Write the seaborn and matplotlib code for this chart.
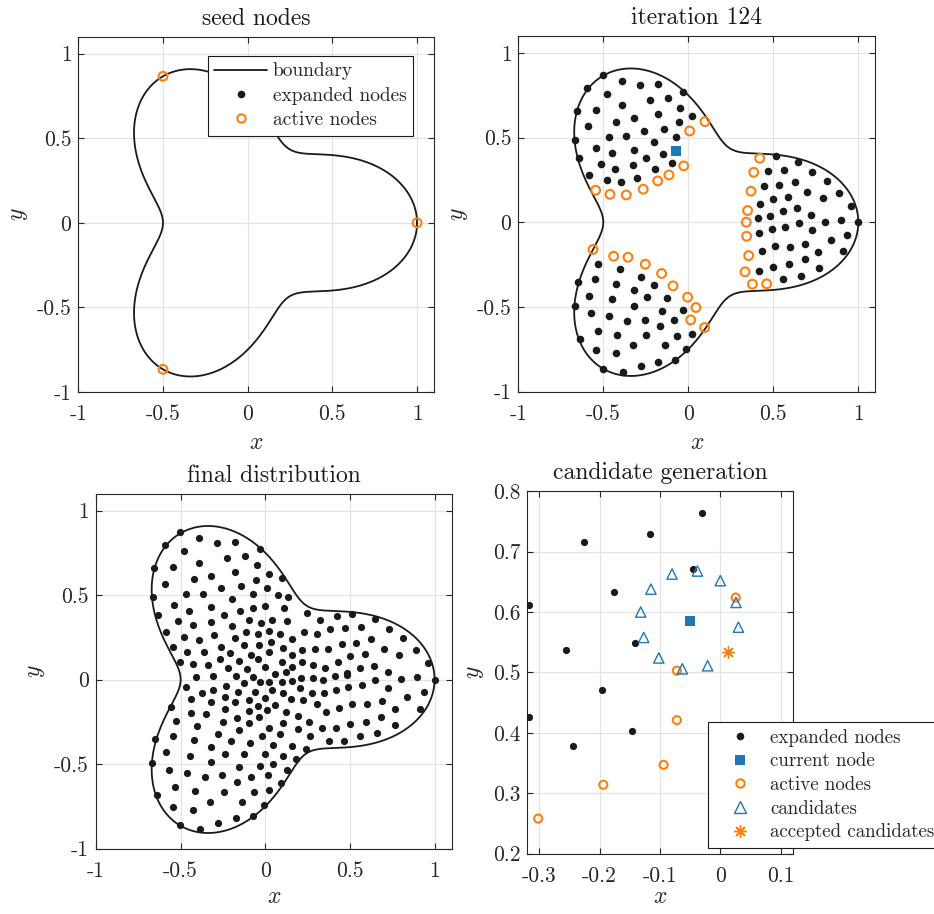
import numpy as np
import pandas as pd
import matplotlib
matplotlib.use("Agg")
import matplotlib.pyplot as plt
import seaborn as sns
from matplotlib.lines import Line2D

# ---------------- data ----------------
# boundary shape: r(phi) = base + amp * cos(lobes * phi)
boundary_base = 0.75
boundary_amp = 0.25
boundary_lobes = 3

seed_x = [1.0, -0.5, -0.5]
seed_y = [0.0, 0.866, -0.866]

iter_expanded_x = [
    -0.504, -0.392, -0.284, -0.180, -0.594, -0.480, -0.033, -0.227, -0.120, -0.390,
    -0.047, -0.657, -0.545, -0.178, -0.320, -0.424, -0.055, 0.024, -0.592, -0.259,
    -0.145, -0.469, -0.369, -0.075, -0.667, -0.200, -0.541, -0.320, -0.449, -0.151,
    -0.641, -0.249, -0.516, -0.324, -0.096, -0.429, -0.198, -0.584, -0.304, -0.480,
    -0.396,
    -0.529, -0.400, -0.547, -0.280, -0.647, -0.424, -0.202, -0.322, -0.584, -0.241,
    -0.125, -0.447, -0.318, -0.031, -0.667, -0.575, -0.155, -0.469, -0.359, -0.257,
    -0.084, -0.167, -0.533, 0.020, -0.418, -0.247, -0.067, -0.639, -0.327, -0.139,
    -0.545, -0.012, -0.427, -0.080, -0.176, -0.278, -0.504, -0.386,
    0.514, 0.645, 0.471, 0.565, 0.728, 0.816, 0.626, 0.447, 0.535, 0.698,
    0.888, 0.500, 0.586, 0.790, 0.424, 0.959, 0.557, 0.641, 0.483, 0.724,
    0.408, 0.649, 0.802, 0.898, 1.000, 0.490, 0.571, 0.416, 0.728, 0.936,
    0.839, 0.686, 0.600, 0.510, 0.765, 0.912, 0.432, 0.685, 0.590, 0.500,
    0.771, 0.414, 0.557, 0.661,
]
iter_expanded_y = [
    0.872, 0.834, 0.809, 0.815, 0.795, 0.756, 0.767, 0.720, 0.736, 0.693,
    0.677, 0.655, 0.665, 0.638, 0.614, 0.592, 0.590, 0.628, 0.567, 0.541,
    0.553, 0.504, 0.508, 0.506, 0.488, 0.476, 0.439, 0.429, 0.409, 0.405,
    0.382, 0.382, 0.342, 0.340, 0.350, 0.315, 0.315, 0.279, 0.262, 0.250,
    0.236,
    -0.248, -0.276, -0.338, -0.325, -0.356, -0.364, -0.368, -0.400, -0.433, -0.443,
    -0.445, -0.453, -0.492, -0.516, -0.494, -0.539, -0.523, -0.553, -0.581, -0.575,
    -0.579, -0.612, -0.642, -0.661, -0.665, -0.669, -0.671, -0.687, -0.728, -0.726,
    -0.756, -0.746, -0.773, -0.811, -0.823, -0.852, -0.866, -0.884,
    0.390, 0.358, 0.305, 0.309, 0.297, 0.246, 0.238, 0.211, 0.220, 0.181,
    0.173, 0.138, 0.150, 0.144, 0.106, 0.096, 0.069, 0.083, 0.035, 0.043,
    0.024, -0.006, 0.004, 0.016, 0.000, -0.043, -0.031, -0.063, -0.047, -0.075,
    -0.106, -0.128, -0.146, -0.142, -0.173, -0.171, -0.171, -0.220, -0.248, -0.262,
    -0.272, -0.287, -0.333, -0.319,
]
iter_active_x = [
    0.098, 0.008, -0.027, -0.114, -0.180, -0.265, -0.365, -0.461, -0.545,
    -0.561, -0.439, -0.355, -0.253, -0.157, -0.090, -0.004, 0.045, 0.014, 0.096,
    0.420, 0.385, 0.369, 0.349, 0.341, 0.343, 0.355, 0.334, 0.377, 0.461,
]
iter_active_y = [
    0.594, 0.539, 0.333, 0.279, 0.244, 0.195, 0.161, 0.165, 0.189,
    -0.161, -0.201, -0.207, -0.248, -0.303, -0.376, -0.443, -0.504, -0.577, -0.622,
    0.378, 0.295, 0.183, 0.069, 0.000, -0.083, -0.197, -0.293, -0.366, -0.364,
]
iter_current_x = [-0.071]
iter_current_y = [0.423]

final_x = [
    -0.504, -0.392, -0.283, -0.179, -0.592, -0.482, -0.033, -0.228, -0.120, -0.390,
    -0.047, -0.655, -0.545, -0.321, -0.179, 0.024, -0.423, -0.053, 0.101, -0.592,
    -0.260, -0.144, 0.010, -0.466, -0.368, -0.075, 0.073, 0.136, -0.665, -0.199,
    -0.541, -0.319, 0.000, -0.073, 0.108, -0.449, -0.149, -0.636, -0.246, -0.096,
    -0.027, 0.040, 0.128, -0.516, -0.323, -0.427, -0.197, -0.585, -0.114, -0.041,
    0.024, 0.085, -0.303, -0.482, -0.394, -0.181, 0.035, -0.545, -0.264, -0.124,
    -0.039, 0.102, -0.460, -0.360, -0.207, 0.022, -0.084, -0.506, -0.268, -0.153,
    -0.043, 0.101, -0.429, -0.340, -0.002, -0.220, -0.108, 0.059, 0.120,
    0.246, 0.321, 0.421, 0.514, 0.646, 0.227, 0.305, 0.384, 0.473, 0.565,
    0.729, 0.158, 0.451, 0.536, 0.626, 0.815, 0.219, 0.292, 0.370, 0.701,
    0.890, 0.158, 0.502, 0.589, 0.790, 0.215, 0.282, 0.427, 0.963, 0.156,
    0.351, 0.485, 0.559, 0.644, 0.725,
    0.156, 0.211, 0.280, 0.343, 0.412, 0.483, 0.648, 0.804, 0.898, 1.000,
    0.203, 0.274, 0.345, 0.416, 0.490, 0.569, 0.727, 0.154, 0.223, 0.307,
    0.510, 0.599, 0.687, 0.839, 0.935, 0.120, 0.191, 0.357, 0.433, 0.768,
    0.914, 0.258, 0.500, 0.593, 0.685, 0.195, 0.333, 0.418, 0.768, 0.262,
    0.557, 0.660, 0.376, 0.463, 0.156, 0.239, 0.183, 0.126,
    -0.409, -0.307, -0.173, -0.071, 0.022, 0.097, -0.470, -0.232, -0.126, -0.031,
    -0.374, -0.307, -0.161, -0.059, 0.039, 0.106, -0.441, -0.240, -0.323, -0.179,
    -0.096, -0.002, -0.041, 0.057, -0.559, -0.439, -0.352, -0.240, -0.094, 0.012,
    -0.527, -0.250, -0.165, -0.037, -0.098, 0.103, -0.401, -0.155, 0.024, -0.279,
    -0.021, 0.087, -0.649, -0.547, -0.423, -0.201, -0.088, 0.045, -0.323, -0.584,
    -0.445, -0.240, -0.126, -0.002, 0.106, -0.669, -0.319, 0.045, -0.031, -0.155,
    -0.571, -0.465, -0.356, -0.256, -0.084, 0.016, -0.169, 0.095, -0.535, 0.022,
    -0.067, -0.415, -0.244, -0.638, -0.140, -0.327, -0.010, -0.543, -0.427, -0.075,
    -0.175, -0.279, -0.504, -0.386,
]
final_y = [
    0.875, 0.835, 0.809, 0.815, 0.796, 0.758, 0.770, 0.721, 0.733, 0.691,
    0.678, 0.658, 0.664, 0.614, 0.638, 0.626, 0.595, 0.591, 0.599, 0.565,
    0.543, 0.553, 0.543, 0.504, 0.508, 0.506, 0.498, 0.490, 0.486, 0.476,
    0.441, 0.431, 0.437, 0.425, 0.423, 0.407, 0.407, 0.382, 0.382, 0.350,
    0.332, 0.354, 0.346, 0.344, 0.342, 0.321, 0.317, 0.281, 0.281, 0.269,
    0.289, 0.269, 0.261, 0.250, 0.236, 0.244, 0.224, 0.190, 0.194, 0.204,
    0.204, 0.188, 0.165, 0.163, 0.159, 0.165, 0.145, 0.104, 0.121, 0.111,
    0.121, 0.106, 0.092, 0.086, 0.076, 0.070, 0.062, 0.035, 0.046,
    0.392, 0.354, 0.378, 0.390, 0.358, 0.279, 0.271, 0.299, 0.305, 0.311,
    0.297, 0.240, 0.210, 0.218, 0.238, 0.244, 0.175, 0.179, 0.182, 0.180,
    0.173, 0.145, 0.139, 0.149, 0.147, 0.106, 0.088, 0.106, 0.098, 0.076,
    0.068, 0.040, 0.068, 0.082, 0.044,
    -0.009, 0.007, 0.011, -0.001, 0.021, 0.027, -0.005, 0.003, 0.015, 0.000,
    -0.052, -0.078, -0.080, -0.062, -0.042, -0.031, -0.048, -0.113, -0.121, -0.143,
    -0.143, -0.143, -0.125, -0.106, -0.074, -0.190, -0.216, -0.194, -0.171, -0.174,
    -0.174, -0.253, -0.263, -0.249, -0.224, -0.293, -0.289, -0.287, -0.271, -0.334,
    -0.334, -0.316, -0.364, -0.362, -0.393, -0.411, -0.470, -0.533,
    0.017, 0.021, 0.023, 0.017, -0.013, -0.017, -0.046, -0.036, -0.023, -0.017,
    -0.082, -0.062, -0.072, -0.072, -0.064, -0.082, -0.115, -0.106, -0.131, -0.135,
    -0.123, -0.107, -0.155, -0.151, -0.163, -0.198, -0.204, -0.173, -0.186, -0.182,
    -0.244, -0.249, -0.228, -0.224, -0.257, -0.259, -0.273, -0.299, -0.285, -0.322,
    -0.334, -0.324, -0.350, -0.336, -0.360, -0.366, -0.374, -0.386, -0.397, -0.431,
    -0.451, -0.439, -0.443, -0.443, -0.455, -0.492, -0.490, -0.502, -0.512, -0.520,
    -0.537, -0.551, -0.575, -0.567, -0.577, -0.565, -0.608, -0.614, -0.636, -0.656,
    -0.668, -0.662, -0.666, -0.681, -0.727, -0.727, -0.743, -0.752, -0.772, -0.808,
    -0.821, -0.847, -0.863, -0.884,
]

cand_expanded_x = [-0.030, -0.116, -0.226, -0.045, -0.176, -0.318, -0.142, -0.256, -0.196, -0.317, -0.147, -0.244]
cand_expanded_y = [0.764, 0.730, 0.716, 0.672, 0.633, 0.611, 0.549, 0.537, 0.471, 0.426, 0.403, 0.378]
cand_current_x = [-0.051]
cand_current_y = [0.586]
cand_active_x = [0.0255, -0.072, -0.072, -0.094, -0.194, -0.302]
cand_active_y = [0.624, 0.503, 0.421, 0.347, 0.314, 0.258]
cand_tri_x = [-0.080, -0.038, 0.000, -0.115, 0.026, -0.132, 0.030, -0.127, -0.102, -0.063, -0.021]
cand_tri_y = [0.663, 0.668, 0.652, 0.638, 0.616, 0.600, 0.575, 0.558, 0.524, 0.506, 0.511]
cand_accepted_x = [0.0134]
cand_accepted_y = [0.534]

titles = ["seed nodes", "iteration 124", "final distribution", "candidate generation"]
main_ticks = [-1, -0.5, 0, 0.5, 1]
main_ticklabels = ["-1", "-0.5", "0", "0.5", "1"]
cand_xticks = [-0.3, -0.2, -0.1, 0, 0.1]
cand_xticklabels = ["-0.3", "-0.2", "-0.1", "0", "0.1"]
cand_yticks = [0.2, 0.3, 0.4, 0.5, 0.6, 0.7, 0.8]
cand_yticklabels = ["0.2", "0.3", "0.4", "0.5", "0.6", "0.7", "0.8"]

# ---------------- style ----------------
sns.set_theme(style="ticks")
plt.rcParams.update({
    "font.family": ["cmr10", "DejaVu Serif"],
    "mathtext.fontset": "cm",
    "axes.formatter.use_mathtext": True,
    "axes.unicode_minus": False,
})

ORANGE = "#ff7f0e"
BLUE = "#1f77b4"
AX_COL = "#262626"
GRID_COL = "#e3e3e3"
TICK_FS = 15.5
TITLE_FS = 17
LABEL_FS = 17
LEG_FS = 13.6

fig = plt.figure(figsize=(9.34, 9.14), dpi=100)
W, H = 934, 914


def add_ax(l, t, r, b):
    return fig.add_axes([l / W, 1 - b / H, (r - l) / W, (b - t) / H])


ax1 = add_ax(78.3, 36.7, 434.0, 392.0)
ax2 = add_ax(518.3, 36.0, 875.3, 391.5)
ax3 = add_ax(96.0, 493.6, 451.5, 848.5)
ax4 = add_ax(527.3, 491.3, 792.7, 853.6)

phi = np.linspace(0, 2 * np.pi, 721)
rad = boundary_base + boundary_amp * np.cos(boundary_lobes * phi)
bnd = pd.DataFrame({"x": rad * np.cos(phi), "y": rad * np.sin(phi)})


def style_ax(ax, title, xt, xtl, yt, ytl, xlim, ylim, xlabelpad=6):
    ax.set_xlim(*xlim)
    ax.set_ylim(*ylim)
    ax.set_xticks(xt)
    ax.set_xticklabels(xtl)
    ax.set_yticks(yt)
    ax.set_yticklabels(ytl)
    ax.grid(True, color=GRID_COL, lw=0.9)
    ax.set_axisbelow(True)
    ax.tick_params(direction="in", top=True, right=True, length=4.5, width=0.8,
                   colors=AX_COL, labelsize=TICK_FS)
    ax.tick_params(axis="x", pad=9)
    ax.tick_params(axis="y", pad=5)
    for s in ax.spines.values():
        s.set_visible(True)
        s.set_color(AX_COL)
        s.set_linewidth(0.8)
    ax.set_title(title, fontsize=TITLE_FS, pad=8.5, color="k")
    ax.set_xlabel("$x$", fontsize=LABEL_FS, labelpad=xlabelpad, color=AX_COL)
    ax.set_ylabel("$y$", fontsize=LABEL_FS, labelpad=5, color=AX_COL)


def draw_boundary(ax):
    sns.lineplot(data=bnd, x="x", y="y", sort=False, estimator=None, color="k",
                 lw=1.3, ax=ax, zorder=2)


def dots(ax, x, y, s=30):
    sns.scatterplot(x=x, y=y, color="k", s=s, linewidth=0, ax=ax, zorder=3)


def rings(ax, x, y, s=40):
    sns.scatterplot(x=x, y=y, marker="o", facecolor="none", edgecolor=ORANGE,
                    linewidth=1.5, s=s, ax=ax, zorder=4)


# seed nodes
draw_boundary(ax1)
rings(ax1, seed_x, seed_y)
style_ax(ax1, titles[0], main_ticks, main_ticklabels, main_ticks, main_ticklabels,
         (-1, 1.1), (-1, 1.1))
h_bnd = Line2D([], [], color="k", lw=1.3)
h_exp = Line2D([], [], color="k", marker="o", ls="none", markersize=5.5, markeredgewidth=0)
h_act = Line2D([], [], color=ORANGE, marker="o", ls="none", markersize=6,
               markerfacecolor="none", markeredgewidth=1.5)
leg1 = ax1.legend([h_bnd, h_exp, h_act], ["boundary", "expanded nodes", "active nodes"],
                  loc="upper right", bbox_to_anchor=(0.942, 0.9465), borderaxespad=0,
                  fontsize=14, fancybox=False, framealpha=1, edgecolor="k",
                  handlelength=2.7, handletextpad=0.3, borderpad=0.35, labelspacing=0.33)
leg1.get_frame().set_linewidth(0.8)

# iteration 124
draw_boundary(ax2)
dots(ax2, iter_expanded_x, iter_expanded_y)
rings(ax2, iter_active_x, iter_active_y)
sns.scatterplot(x=iter_current_x, y=iter_current_y, marker="s", color=BLUE, s=55,
                linewidth=0, ax=ax2, zorder=5)
style_ax(ax2, titles[1], main_ticks, main_ticklabels, main_ticks, main_ticklabels,
         (-1, 1.1), (-1, 1.1))

# final distribution
draw_boundary(ax3)
dots(ax3, final_x, final_y, s=27)
style_ax(ax3, titles[2], main_ticks, main_ticklabels, main_ticks, main_ticklabels,
         (-1, 1.1), (-1, 1.1), xlabelpad=4)

# candidate generation
dots(ax4, cand_expanded_x, cand_expanded_y, s=27)
sns.scatterplot(x=cand_current_x, y=cand_current_y, marker="s", color=BLUE, s=55,
                linewidth=0, ax=ax4, zorder=5)
rings(ax4, cand_active_x, cand_active_y, s=34)
sns.scatterplot(x=cand_tri_x, y=cand_tri_y, marker="^", facecolor="none", edgecolor=BLUE,
                linewidth=1.0, s=55, ax=ax4, zorder=4)
sns.scatterplot(x=cand_accepted_x, y=cand_accepted_y, marker=(8, 2, 0), color=ORANGE,
                edgecolor=ORANGE, linewidth=1.0, s=70, ax=ax4, zorder=6)
style_ax(ax4, titles[3], cand_xticks, cand_xticklabels, cand_yticks, cand_yticklabels,
         (-0.32, 0.12), (0.2, 0.8), xlabelpad=0.5)

h_cur = Line2D([], [], color=BLUE, marker="s", ls="none", markersize=7, markeredgewidth=0)
h_tri = Line2D([], [], color=BLUE, marker="^", ls="none", markersize=8,
               markerfacecolor="none", markeredgewidth=1.0)
h_acc = Line2D([], [], color=ORANGE, marker=(8, 2, 0), ls="none", markersize=9,
               markeredgewidth=1.0)
leg4 = fig.legend([h_exp, h_cur, h_act, h_tri, h_acc],
                  ["expanded nodes", "current node", "active nodes", "candidates",
                   "accepted candidates"],
                  loc="upper left", bbox_to_anchor=(708.3 / W, 1 - 722.3 / H),
                  bbox_transform=fig.transFigure, borderaxespad=0,
                  fontsize=LEG_FS, fancybox=False, framealpha=1, edgecolor="k",
                  handlelength=2.7, handletextpad=0.22, borderpad=0.35, labelspacing=0.3)
leg4.get_frame().set_linewidth(0.8)
leg4.set_zorder(10)

fig.savefig("out.png", dpi=100)
